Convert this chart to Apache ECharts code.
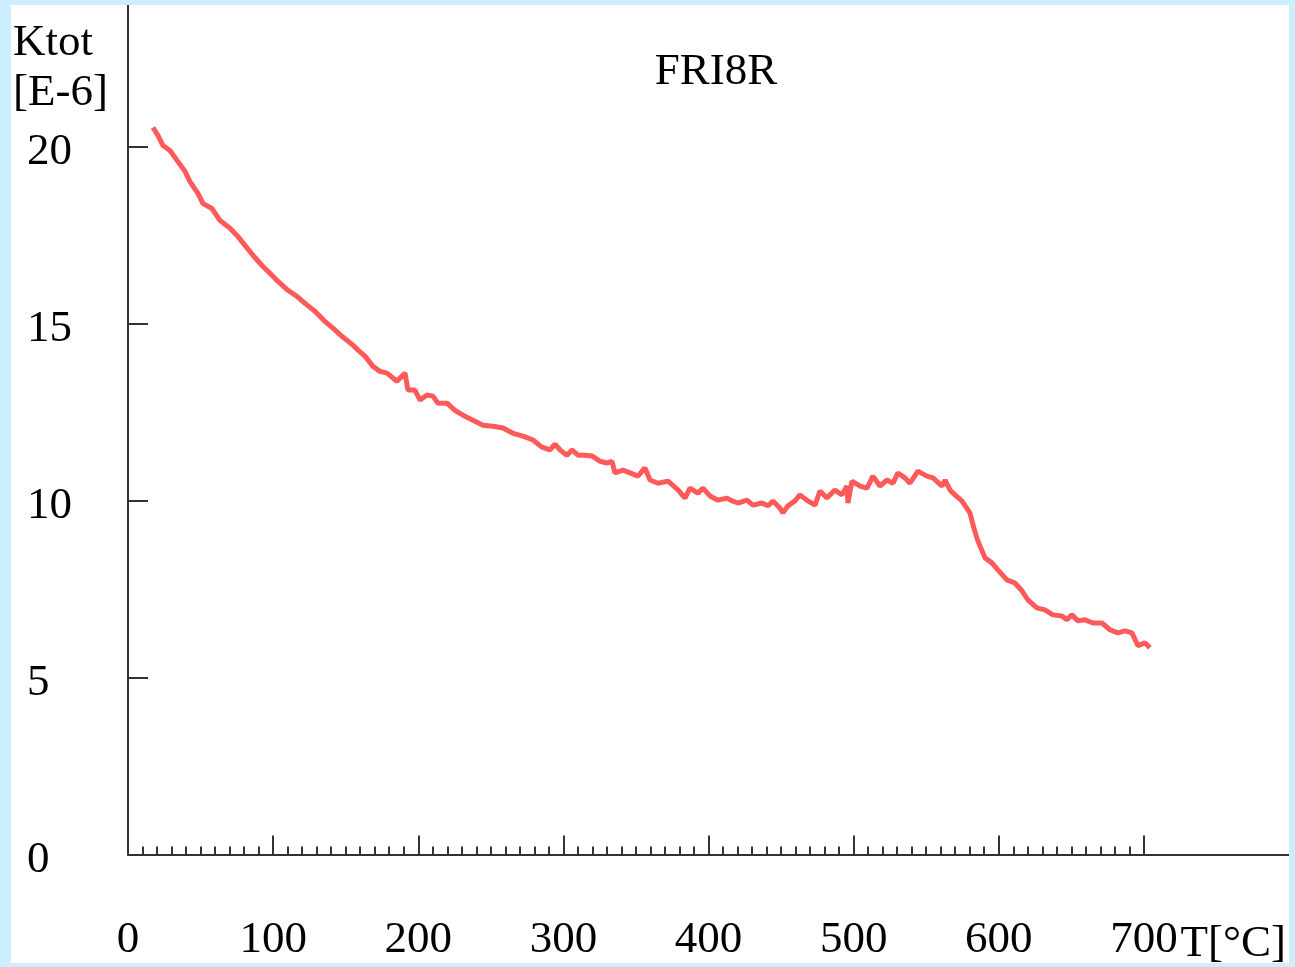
<!DOCTYPE html>
<html>
<head>
<meta charset="utf-8">
<script src="https://cdn.jsdelivr.net/npm/echarts@6/dist/echarts.min.js"></script>
<style>
html,body{margin:0;padding:0;width:1295px;height:967px;background:#cdeefe;overflow:hidden;}
#chart{position:absolute;left:11px;top:5px;width:1278px;height:958px;background:#ffffff;}
</style>
</head>
<body>
<div id="chart"></div>
<script>
// Temperature (°C) and Ktot [E-6]
const temps = [17.2,20.7,24.1,28.9,33.8,39.3,42.7,48.2,51.7,57.9,63.4,70.3,75.1,80.6,86.1,92.3,97.8,103.4,110.2,116.4,122.0,128.8,135.7,141.2,147.4,
155.0,158.5,163.3,168.8,173.6,178.5,185.3,190.9,192.9,197.7,201.2,206.0,210.1,213.6,219.8,225.3,230.8,237.7,244.6,251.5,258.4,265.3,272.2,279.1,
285.2,290.8,294.2,297.7,302.5,305.9,310.1,314.9,319.7,325.2,330.0,333.5,335.5,341.1,345.9,351.4,356.2,359.7,365.2,372.1,379.0,383.8,387.2,392.7,396.2,401.0,406.5,412.7,416.2,
420.3,426.5,430.6,436.8,441.0,444.4,449.2,451.3,454.7,459.6,463.0,468.5,473.4,476.8,481.6,487.1,491.9,495.4,496.1,498.8,504.4,509.2,513.3,518.1,523.0,527.1,530.5,535.4,538.8,544.3,550.5,
554.7,560.9,563.0,566.4,569.8,574.6,580.1,582.9,585.6,590.5,595.3,599.4,605.6,611.1,616.0,620.1,626.3,631.8,637.3,643.5,647.0,650.4,654.6,659.4,664.9,671.1,676.6,682.1,687.0,691.8,695.9,700.7,704.2];
const ktot = [20.54,20.31,20.03,19.89,19.61,19.30,19.01,18.68,18.39,18.25,17.91,17.69,17.49,17.21,16.93,16.64,16.42,16.19,15.94,15.77,15.57,15.35,15.06,14.87,14.64,
14.39,14.25,14.08,13.79,13.65,13.60,13.37,13.60,13.12,13.12,12.84,12.98,12.95,12.75,12.75,12.55,12.41,12.27,12.13,12.10,12.05,11.90,11.82,11.71,
11.51,11.43,11.59,11.43,11.28,11.43,11.28,11.28,11.26,11.11,11.06,11.11,10.78,10.86,10.78,10.69,10.92,10.58,10.49,10.55,10.30,10.07,10.35,10.21,10.35,10.13,10.01,10.07,9.99,
9.93,10.01,9.87,9.93,9.85,9.99,9.79,9.65,9.85,9.99,10.16,9.99,9.87,10.27,10.07,10.30,10.16,10.41,9.93,10.55,10.41,10.35,10.69,10.41,10.58,10.49,10.78,10.64,10.49,10.83,10.69,
10.64,10.41,10.58,10.30,10.16,9.99,9.65,9.22,8.86,8.38,8.24,8.04,7.76,7.67,7.45,7.19,6.97,6.91,6.77,6.74,6.63,6.77,6.60,6.63,6.54,6.54,6.35,6.26,6.32,6.26,5.90,5.98,5.84];

const xLabels = [0,100,200,300,400,500,600,700];
const xMajorTicks = [100,200,300,400,500,600,700];
const xMinorTicks = [];
for (let v = 10; v <= 700; v += 10) { if (v % 100 !== 0) xMinorTicks.push(v); }
const yLabels = [0,5,10,15,20];
const yTicks = [5,10,15,20];

const titleText = 'FRI8R';
const yName1 = 'Ktot';
const yName2 = '[E-6]';
const xName = 'T[°C]';

const FONT = '"Liberation Serif", "Times New Roman", serif';
const AX = '#333333';
const TXT = '#000000';

const data = [];
for (let i = 0; i < Math.min(temps.length, ktot.length); i++) data.push([temps[i], ktot[i]]);

const chart = echarts.init(document.getElementById('chart'), null, {renderer: 'canvas'});
chart.setOption({
  animation: false,
  backgroundColor: '#ffffff',
  grid: {left: 117, top: 0, width: 1161, height: 852, containLabel: false},
  xAxis: [{
    type: 'value', min: 0, max: 800, interval: 100,
    axisLine: {show: true, lineStyle: {color: AX, width: 2}},
    axisTick: {show: true, inside: true, length: 19, customValues: xMajorTicks, lineStyle: {color: AX, width: 2}},
    axisLabel: {show: true, customValues: xLabels, margin: 86, verticalAlign: 'middle',
      fontFamily: FONT, fontSize: 45, color: TXT},
    splitLine: {show: false}
  }, {
    type: 'value', min: 0, max: 800, gridIndex: 0, position: 'bottom',
    axisLine: {show: false},
    axisTick: {show: true, inside: true, length: 8, customValues: xMinorTicks, lineStyle: {color: AX, width: 2}},
    axisLabel: {show: false},
    splitLine: {show: false}
  }],
  yAxis: {
    type: 'value', min: 0, max: 24, interval: 5,
    axisLine: {show: true, lineStyle: {color: AX, width: 2}},
    axisTick: {show: true, inside: true, length: 20, customValues: yTicks, lineStyle: {color: AX, width: 2}},
    axisLabel: {show: true, customValues: yLabels, align: 'left', margin: 101, verticalAlign: 'top',
      lineHeight: 11, fontFamily: FONT, fontSize: 45, color: TXT},
    splitLine: {show: false}
  },
  graphic: [
    {type: 'text', x: 705, y: 67, style: {text: titleText, font: '45px ' + FONT, fill: TXT, align: 'center', verticalAlign: 'middle'}},
    {type: 'text', x: 2, y: 38, style: {text: yName1, font: '45px ' + FONT, fill: TXT, align: 'left', verticalAlign: 'middle'}},
    {type: 'text', x: 2, y: 88, style: {text: yName2, font: '45px ' + FONT, fill: TXT, align: 'left', verticalAlign: 'middle'}},
    {type: 'text', x: 1275, y: 939, style: {text: xName, font: '45px ' + FONT, fill: TXT, align: 'right', verticalAlign: 'middle'}}
  ],
  series: [{
    type: 'line', xAxisIndex: 0, data: data, showSymbol: false, symbol: 'none',
    lineStyle: {color: '#ff5a5a', width: 5}, z: 3
  }]
});
</script>
</body>
</html>
